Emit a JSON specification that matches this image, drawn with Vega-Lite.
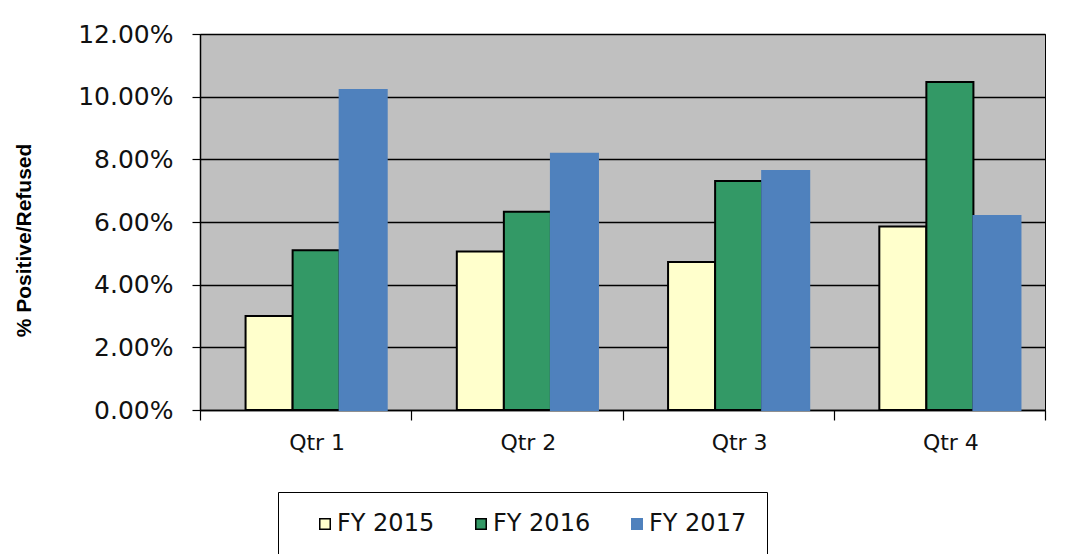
{
  "$schema": "https://vega.github.io/schema/vega-lite/v6.json",
  "width": 845,
  "height": 376,
  "autosize": {"type": "none"},
  "padding": {"left": 200, "top": 34, "right": 29, "bottom": 144},
  "background": "white",
  "config": {
    "font": "DejaVu Sans",
    "view": {"fill": "#C0C0C0", "stroke": "#000000", "strokeWidth": 1}
  },
  "data": {
    "values": [
      {"quarter": "Qtr 1", "year": "FY 2015", "value": 0.030},
      {"quarter": "Qtr 1", "year": "FY 2016", "value": 0.051},
      {"quarter": "Qtr 1", "year": "FY 2017", "value": 0.1021},
      {"quarter": "Qtr 2", "year": "FY 2015", "value": 0.0506},
      {"quarter": "Qtr 2", "year": "FY 2016", "value": 0.0633},
      {"quarter": "Qtr 2", "year": "FY 2017", "value": 0.0818},
      {"quarter": "Qtr 3", "year": "FY 2015", "value": 0.0472},
      {"quarter": "Qtr 3", "year": "FY 2016", "value": 0.0731},
      {"quarter": "Qtr 3", "year": "FY 2017", "value": 0.0763},
      {"quarter": "Qtr 4", "year": "FY 2015", "value": 0.0586},
      {"quarter": "Qtr 4", "year": "FY 2016", "value": 0.1047},
      {"quarter": "Qtr 4", "year": "FY 2017", "value": 0.0619}
    ]
  },
  "mark": {"type": "bar", "strokeWidth": 2},
  "encoding": {
    "x": {
      "field": "quarter",
      "type": "nominal",
      "sort": null,
      "scale": {"paddingInner": 0, "paddingOuter": 0},
      "axis": {
        "title": null,
        "labelAngle": 0,
        "labelFontSize": 22,
        "labelColor": "#111111",
        "labelPadding": 12,
        "labelOffset": 11,
        "tickBand": "extent",
        "tickSize": 10,
        "tickColor": "#000000",
        "domainColor": "#000000",
        "domainWidth": 1.5,
        "tickWidth": 1.2
      }
    },
    "xOffset": {
      "field": "year",
      "type": "nominal",
      "sort": ["FY 2015", "FY 2016", "FY 2017"],
      "scale": {"paddingInner": 0, "paddingOuter": 0.745, "align": 0.65}
    },
    "y": {
      "field": "value",
      "type": "quantitative",
      "scale": {"domain": [0, 0.12], "nice": false},
      "axis": {
        "title": "% Positive/Refused",
        "titleFont": "Liberation Sans",
        "titleFontSize": 21,
        "titleFontWeight": "bold",
        "titleColor": "#000000",
        "titleAngle": -90,
        "titleAlign": "center",
        "titleBaseline": "middle",
        "titleX": -176,
        "titleY": 206,
        "format": ".2%",
        "values": [0, 0.02, 0.04, 0.06, 0.08, 0.1, 0.12],
        "labelFontSize": 25,
        "labelColor": "#111111",
        "labelPadding": 19,
        "tickSize": 8,
        "tickColor": "#000000",
        "tickWidth": 1.2,
        "domainColor": "#000000",
        "domainWidth": 1.5,
        "grid": true,
        "gridColor": "#000000",
        "gridWidth": 1.5
      }
    },
    "color": {
      "field": "year",
      "type": "nominal",
      "scale": {"domain": ["FY 2015", "FY 2016", "FY 2017"], "range": ["#FFFFCC", "#339966", "#4F81BD"]},
      "legend": {
        "title": null,
        "orient": "none",
        "direction": "horizontal",
        "legendX": 78,
        "legendY": 458,
        "columns": 3,
        "columnPadding": 19,
        "padding": 20,
        "symbolOffset": 15,
        "strokeColor": "#000000",
        "fillColor": "#FFFFFF",
        "symbolType": "square",
        "symbolSize": 110,
        "symbolStrokeWidth": 1.5,
        "labelFontSize": 24,
        "labelColor": "#111111",
        "labelOffset": 0,
        "labelLimit": 500,
        "labelExpr": "datum.value == 'FY 2017' ? datum.label + '\u00a0\u00a0\u00a0\u00a0\u00a0\u00a0\u00a0\u00a0\u00a0\u00a0\u00a0\u00a0\u00a0\u00a0\u00a0\u00a0\u00a0\u00a0' : datum.label"
      }
    },
    "stroke": {
      "field": "year",
      "type": "nominal",
      "scale": {"domain": ["FY 2015", "FY 2016", "FY 2017"], "range": ["#000000", "#000000", "#4F81BD"]},
      "legend": {
        "title": null,
        "orient": "none",
        "direction": "horizontal",
        "legendX": 78,
        "legendY": 458,
        "columns": 3,
        "columnPadding": 19,
        "padding": 20,
        "symbolOffset": 15,
        "strokeColor": "#000000",
        "fillColor": "#FFFFFF",
        "symbolType": "square",
        "symbolSize": 110,
        "symbolStrokeWidth": 1.5,
        "labelFontSize": 24,
        "labelColor": "#111111",
        "labelOffset": 0,
        "labelLimit": 500,
        "labelExpr": "datum.value == 'FY 2017' ? datum.label + '\u00a0\u00a0\u00a0\u00a0\u00a0\u00a0\u00a0\u00a0\u00a0\u00a0\u00a0\u00a0\u00a0\u00a0\u00a0\u00a0\u00a0\u00a0' : datum.label"
      }
    }
  }
}
